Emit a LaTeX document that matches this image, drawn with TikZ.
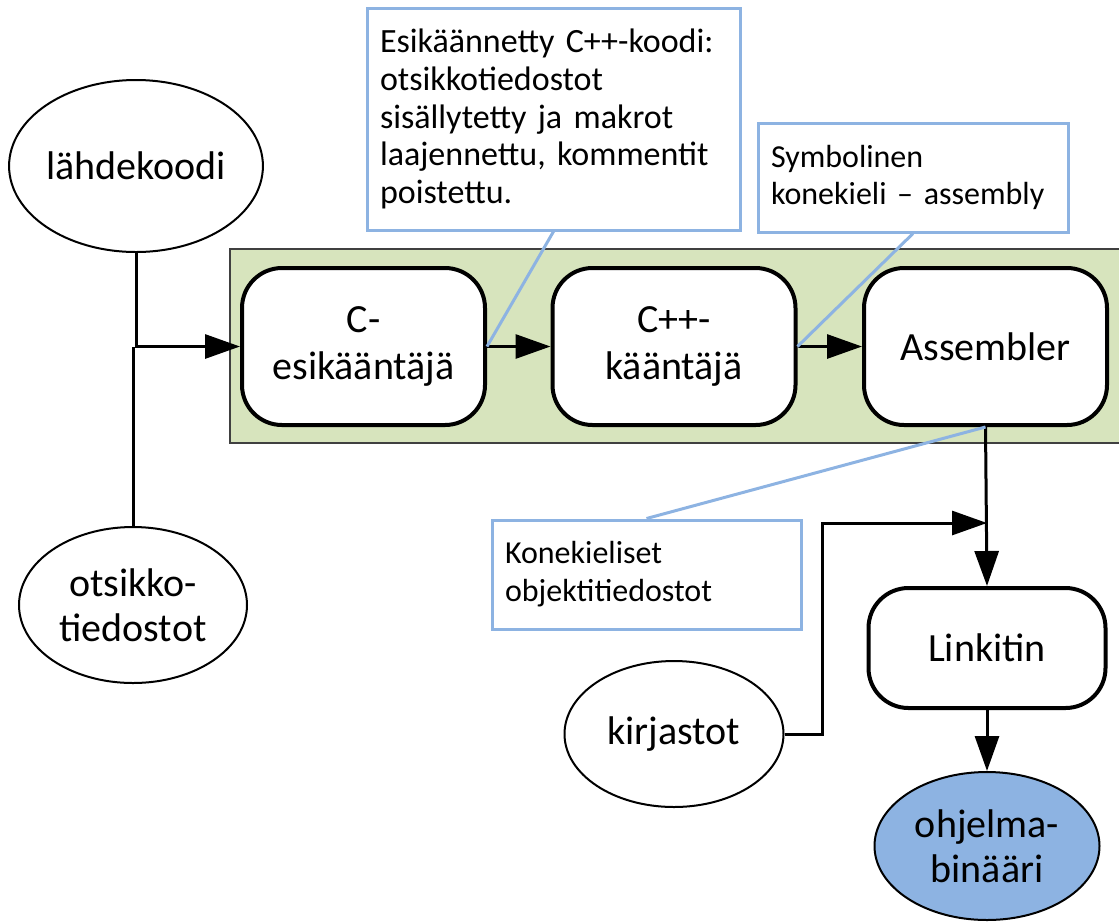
\documentclass[tikz,border=0pt]{standalone}
\usepackage{fontspec}
\setmainfont{Carlito}
\usepackage{xcolor}
\usepackage{tikz}
\usetikzlibrary{shapes.geometric, arrows.meta, positioning}
\definecolor{stagegreen}{RGB}{215, 228, 189}
\definecolor{noteblue}{RGB}{141, 179, 226}
\definecolor{framegray}{RGB}{64, 64, 64}

\tikzset{
	toolbox/.style={draw=black, fill=white, line width=4pt, rounded corners=40pt,
		minimum width=243pt, minimum height=157pt, align=center,
		font=\fontsize{40}{47}\selectfont},
	filenode/.style={ellipse, draw=black, fill=white, line width=2pt, inner sep=0pt,
		align=center, font=\fontsize{40}{45}\selectfont},
	notebox/.style={draw=noteblue, fill=white, line width=3pt, inner xsep=13pt,
		align=left},
	noteline/.style={draw=noteblue, line width=3pt},
	flow/.style={line width=3pt, -{Triangle[length=35pt, width=24pt]}},
	plainflow/.style={line width=3pt}
}

\begin{document}
\begin{tikzpicture}[x=1pt, y=-1pt]
	\useasboundingbox (0,0) rectangle (1119,922);

	% kaantajavaihe
	\draw[fill=stagegreen, draw=framegray, line width=1.5pt] (230,249) rectangle (1130,443);

	\node[toolbox] (cpre) at (363.5,346.5) {C-\\esikääntäjä};
	\node[toolbox] (ccomp) at (674,346.5) {C++-\\kääntäjä};
	\node[toolbox] (asm) at (985.5,346.5) {Assembler};
	\node[toolbox, minimum width=237pt, minimum height=120pt] (link) at (987,648) {Linkitin};

	\node[filenode, minimum width=192pt, minimum height=172pt] (source) at (136,166) {lähdekoodi};
	\node[filenode, minimum width=228pt, minimum height=156pt] (headers) at (133,605) {otsikko-\\tiedostot};
	\node[filenode, minimum width=219pt, minimum height=146pt] (libs) at (674,734) {kirjastot};
	\node[filenode, fill=noteblue, minimum width=225pt, minimum height=148pt] (binary) at (987,846) {ohjelma-\\binääri};

	% nuolet
	\draw[flow] (source.south) |- (cpre.west);
	\draw[plainflow] (headers.north) -- (headers.north |- cpre.west);
	\draw[flow] (cpre.east) -- (ccomp.west);
	\draw[flow] (ccomp.east) -- (asm.west);
	\draw[flow] (asm.south) -- (link.north);
	\coordinate (merge) at (987,523);
	\draw[flow] (libs.east) -- ++(38,0) |- (merge);
	\draw[flow] (link.south) -- (binary.north);

	% selitteet
	\node[notebox, text width=347pt, minimum height=222pt,
		font=\fontsize{34}{37.7}\selectfont] (note1) at (553.5,119)
		{Esikäännetty C++-koodi:\\otsikkotiedostot\\sisällytetty ja makrot\\laajennettu, kommentit\\poistettu.};
	\node[notebox, text width=284pt, minimum height=109pt,
		font=\fontsize{32}{37}\selectfont] (note2) at (913,177.5)
		{Symbolinen\\konekieli – assembly};
	\node[notebox, text width=283pt, minimum height=109pt,
		font=\fontsize{32}{38}\selectfont] (note3) at (646.5,574.5)
		{Konekieliset\\objektitiedostot};

	\draw[noteline] (note1.south) -- (cpre.east);
	\draw[noteline] (note2.south) -- (ccomp.east);
	\draw[noteline] (note3.north) -- (asm.south);
\end{tikzpicture}
\end{document}
